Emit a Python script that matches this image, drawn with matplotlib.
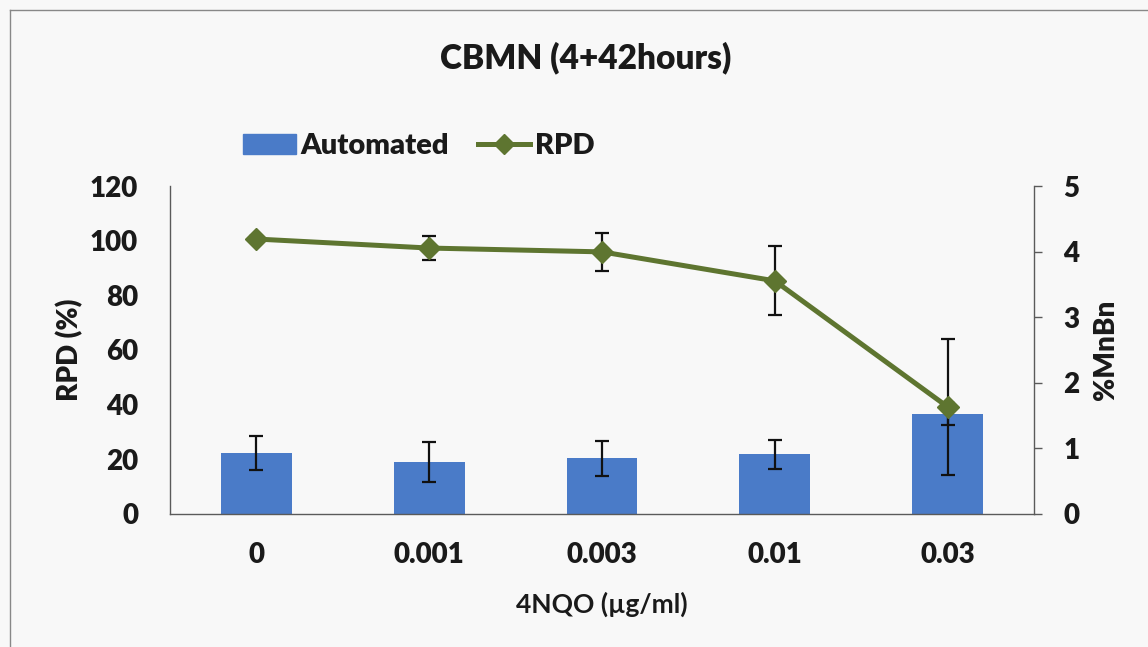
import matplotlib
matplotlib.use('Agg')
import matplotlib.pyplot as plt
from matplotlib.lines import Line2D
from matplotlib.patches import Patch
import numpy as np

# data
doses = ['0', '0.001', '0.003', '0.01', '0.03']
mnbn = [0.93, 0.79, 0.85, 0.91, 1.52]          # %MnBn (bars, right axis)
mnbn_err = [0.26, 0.30, 0.27, 0.22, 0.17]
rpd = [100.6, 97.3, 95.9, 85.3, 39.2]          # RPD % (line, left axis)
rpd_err = [1.0, 4.4, 7.0, 12.6, 24.9]

plt.rcParams['font.family'] = ['Lato', 'DejaVu Sans']
plt.rcParams['font.weight'] = 'heavy'

bar_col = '#4A7BC8'
line_col = '#5E7530'
spine_col = '#5a5a5a'
txt = '#1a1a1a'

fig = plt.figure(figsize=(11.48, 6.47), dpi=100, facecolor='#f8f8f8')
ax = fig.add_axes([0.1481, 0.2056, 0.7526, 0.5069])
ax2 = ax.twinx()

x = np.arange(len(doses))

# bars on right axis
ax2.bar(x, mnbn, width=0.41, color=bar_col, zorder=2)
ax2.errorbar(x, mnbn, yerr=mnbn_err, fmt='none', ecolor='#111111',
             elinewidth=1.6, capsize=5, capthick=1.6, zorder=3)

# line on left axis, drawn above bars
ax.set_zorder(ax2.get_zorder() + 1)
ax.patch.set_visible(False)
ax.errorbar(x, rpd, yerr=rpd_err, fmt='none', ecolor='#111111',
            elinewidth=1.6, capsize=5, capthick=1.6, zorder=3)
ax.plot(x, rpd, color=line_col, lw=3.6, marker='D', markersize=11,
        zorder=4)

ax.set_xlim(-0.5, 4.5)
ax.set_ylim(0, 120)
ax2.set_ylim(0, 5)
ax.set_yticks(range(0, 121, 20))
ax2.set_yticks(range(0, 6))
ax.set_xticks(x)
ax.set_xticklabels(doses)

for a in (ax, ax2):
    a.spines['top'].set_visible(False)
    for s in ('left', 'right', 'bottom'):
        a.spines[s].set_color(spine_col)
        a.spines[s].set_linewidth(1.0)
ax.spines['right'].set_visible(False)
ax2.spines['left'].set_visible(False)
ax2.spines['bottom'].set_visible(False)

ax.tick_params(axis='y', length=0, pad=23, labelsize=20, colors=txt)
ax.tick_params(axis='x', length=0, pad=20, labelsize=20, colors=txt)
ax2.tick_params(axis='y', length=6, width=1, color=spine_col, pad=15,
                labelsize=20, labelcolor=txt)

ax.set_ylabel('RPD (%)', fontsize=20, fontweight='heavy', labelpad=5,
              color=txt)
ax2.set_ylabel('%MnBn', fontsize=20, fontweight='heavy', labelpad=10,
               color=txt)
ax.set_xlabel('4NQO (\u00b5g/ml)', fontsize=19, fontweight='bold',
              labelpad=17, color=txt)

fig.text(0.5105, 0.91, 'CBMN (4+42hours)', ha='center', va='center',
         fontsize=24, fontweight='heavy', color=txt)

handles = [Patch(facecolor=bar_col, edgecolor=bar_col),
           Line2D([0], [0], color=line_col, lw=3.6, marker='D', markersize=10)]
fig.legend(handles, ['Automated', 'RPD'], loc='center left',
           bbox_to_anchor=(0.189, 0.774), ncol=2, frameon=False,
           fontsize=21, handlelength=1.8, handletextpad=0.15,
           columnspacing=1.0, labelcolor=txt)

# scan frame
fig.add_artist(Line2D([0.009, 0.009], [0.0, 0.985], color='#888888', lw=1,
                      transform=fig.transFigure))
fig.add_artist(Line2D([0.009, 1.0], [0.985, 0.985], color='#888888', lw=1,
                      transform=fig.transFigure))

fig.savefig('out.png', dpi=100, facecolor=fig.get_facecolor())
